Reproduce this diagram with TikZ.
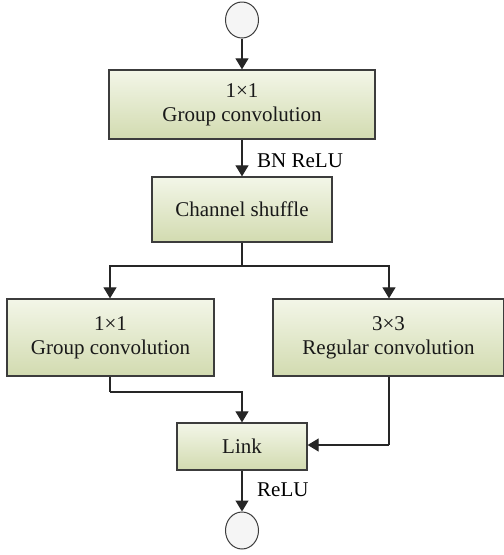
\documentclass[tikz,border=0pt]{standalone}
\usepackage{fontspec}
\setmainfont{Liberation Serif}
\usetikzlibrary{arrows.meta,shapes.geometric}
\definecolor{boxtop}{HTML}{F3F6E8}
\definecolor{boxbot}{HTML}{D2DBB0}
\definecolor{edge}{HTML}{3C3C3C}
\definecolor{ringfill}{HTML}{F5F5F5}
\begin{document}
\begin{tikzpicture}[x=1pt,y=-1pt,
  font=\fontsize{21}{24}\selectfont,
  block/.style={draw=edge,line width=1.3pt,top color=boxtop,bottom color=boxbot,
    inner sep=0pt,align=center,text=black!90},
  term/.style={draw=edge,line width=1pt,fill=ringfill,ellipse,inner sep=0pt},
  flow/.style={line width=1.2pt,draw=black!85,-{Triangle[length=11pt,width=13pt]}},
  link/.style={line width=1.2pt,draw=black!85}]
\useasboundingbox (0,0) rectangle (504,555);
% terminals
\node[term,minimum width=33pt,minimum height=36pt] (in)  at (242,20) {};
\node[term,minimum width=33pt,minimum height=37pt] (out) at (242,530.5) {};
% blocks
\node[block,minimum width=266pt,minimum height=69pt] (g1) at (242,104.5) {1×1\\Group convolution};
\node[block,minimum width=180pt,minimum height=65pt] (cs) at (242,209.5) {Channel shuffle};
\node[block,minimum width=207pt,minimum height=77pt] (g2) at (110.5,337.5) {1×1\\Group convolution};
\node[block,minimum width=231pt,minimum height=77pt] (rc) at (388.5,337.5) {3×3\\Regular convolution};
\node[block,minimum width=130pt,minimum height=47pt] (lk) at (242,446.5) {Link};
% junction points
\coordinate (split) at (242,266);
\coordinate (jl) at (110,392);
\coordinate (jr) at (389,445);
% connectors
\draw[flow] (in) -- (g1);
\draw[flow] (g1) -- (cs);
\draw[link] (cs) -- (split);
\draw[flow] (split) -| (g2.north -| jl);
\draw[flow] (split) -| (rc.north -| jr);
\draw[link] (g2.south -| jl) -- (jl);
\draw[flow] (jl) -| (lk.north);
\draw[link] (rc.south -| jr) -- (jr);
\draw[flow] (jr) -- (lk.east |- jr);
\draw[flow] (lk) -- (out);
% labels
\node[anchor=base west,inner sep=0pt] (bn) at (257,167) {BN ReLU};
\node[anchor=base west,inner sep=0pt] (re) at (257,496) {ReLU};
\end{tikzpicture}
\end{document}
